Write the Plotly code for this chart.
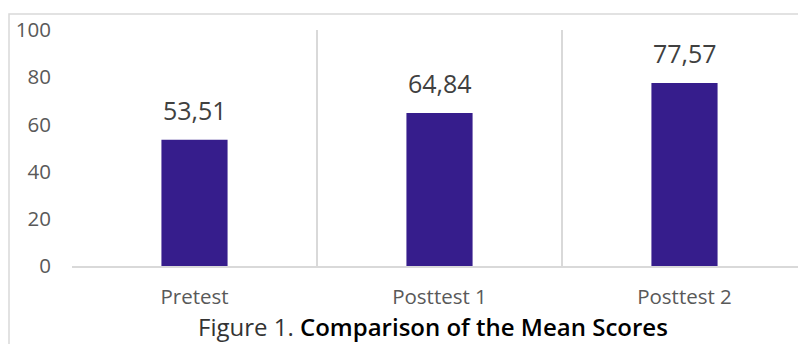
import plotly.graph_objects as go

categories = ["Pretest", "Posttest 1", "Posttest 2"]
values = [53.51, 64.84, 77.57]
value_labels = ["53,51", "64,84", "77,57"]
y_ticks = [0, 20, 40, 60, 80, 100]

BAR = "#361D8C"
GRID = "#D9D9D9"
FONT = "Open Sans"

fig = go.Figure()
fig.add_trace(go.Bar(
    x=categories, y=values, marker=dict(color=BAR, line=dict(width=0)),
    width=0.27, hoverinfo="skip",
))

for c, v, t in zip(categories, values, value_labels):
    fig.add_annotation(x=c, y=v, text=t, showarrow=False, yanchor="bottom",
                       yshift=11, font=dict(family=FONT, size=25, color="#404040"))

fig.add_annotation(
    xref="paper", yref="paper", x=(433 - 72) / 726, y=(266 - 326) / 236,
    yanchor="middle", xanchor="center", showarrow=False,
    text='<span style="color:#333333">Figure 1. </span><span style="font-weight:600">Comparison of the Mean Scores</span>',
    font=dict(family=FONT, size=24, color="#000000"),
)

# outer chart border
fig.add_shape(type="rect", xref="paper", yref="paper",
              x0=(9 - 72) / 726, x1=1.3, y0=-0.6, y1=1 + 16 / 236,
              line=dict(color=GRID, width=1.5), layer="below")

fig.update_layout(
    width=798, height=344,
    margin=dict(l=72, r=0, t=30, b=78),
    paper_bgcolor="white", plot_bgcolor="white",
    showlegend=False,
    font=dict(family=FONT, color="#595959"),
    xaxis=dict(
        type="category", range=[-0.5, 2.5 - 9 / 245],
        tickson="boundaries", showgrid=True, gridcolor=GRID, gridwidth=1.5,
        ticks="", showline=True, linecolor=GRID, linewidth=1.5,
        tickfont=dict(family=FONT, size=20.5, color="#595959"),
        ticklabelstandoff=12, zeroline=False, fixedrange=True,
    ),
    yaxis=dict(
        range=[0, 100], tickvals=y_ticks, showgrid=False, zeroline=False,
        showline=False, ticks="",
        tickfont=dict(family=FONT, size=20.5, color="#595959"),
        ticklabelstandoff=20, fixedrange=True,
    ),
)

fig.write_html("out.html")
